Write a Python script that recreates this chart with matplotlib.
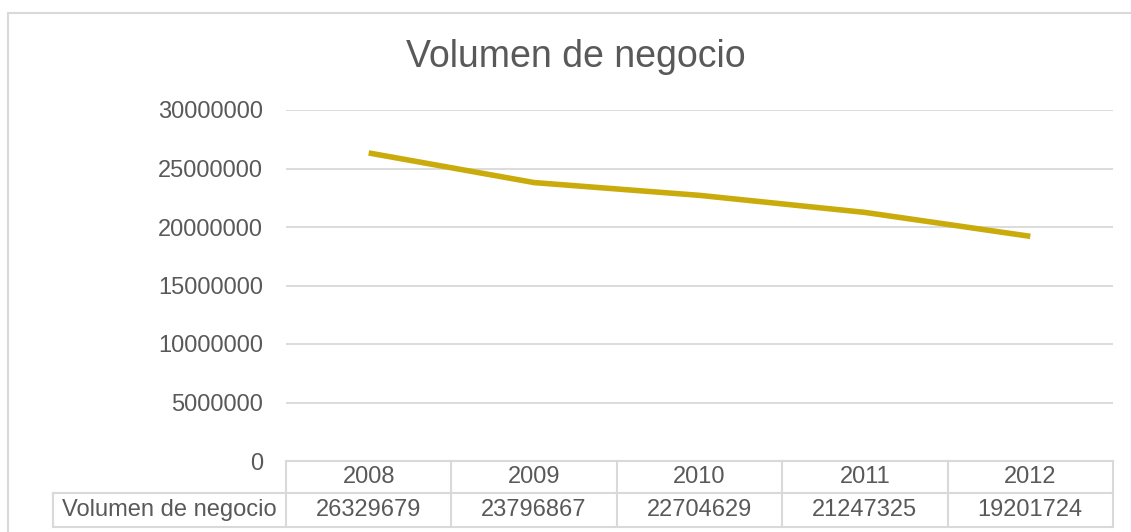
import matplotlib
matplotlib.use("Agg")
import matplotlib.pyplot as plt
from matplotlib.lines import Line2D

years = ["2008", "2009", "2010", "2011", "2012"]
values = [26329679, 23796867, 22704629, 21247325, 19201724]
series_name = "Volumen de negocio"
title = "Volumen de negocio"
yticks = [0, 5000000, 10000000, 15000000, 20000000, 25000000, 30000000]

plt.rcParams['font.family'] = ['Liberation Sans', 'DejaVu Sans']
W, H = 1131, 532
fig = plt.figure(figsize=(W / 100, H / 100), dpi=100)

TXT = '#595959'
GRID = '#D9D9D9'
LINE = '#C9AC0B'

# axes placement in pixels
x0, x1, ytop, ybot = 286, 1113, 110, 461
ax = fig.add_axes([x0 / W, (H - ybot) / H, (x1 - x0) / W, (ybot - ytop) / H])

xs = list(range(len(years)))
ax.plot(xs, values, color=LINE, lw=4, solid_capstyle='butt', zorder=3)
ax.set_xlim(-0.5, len(years) - 0.5)
ax.set_ylim(0, 30000000)
ax.set_yticks(yticks)
ax.set_yticklabels([str(v) for v in yticks], fontsize=17, color=TXT)
ax.tick_params(axis='y', length=0, pad=16.5)
ax.set_xticks([])
ax.grid(axis='y', color=GRID, lw=1.3)
ax.set_axisbelow(True)
for s in ax.spines.values():
    s.set_visible(False)

# data table
tr = ax.get_xaxis_transform()
axh = ybot - ytop
r1 = -(493 - ybot) / axh
r2 = -(527 - ybot) / axh
lab_left = -0.5 - (x0 - 53) / ((x1 - x0) / len(years))
lk = dict(color=GRID, lw=1.5, transform=tr, clip_on=False)
ax.add_line(Line2D([-0.5, len(years) - 0.5], [0, 0], **lk))
ax.add_line(Line2D([lab_left, len(years) - 0.5], [r1, r1], **lk))
ax.add_line(Line2D([lab_left, len(years) - 0.5], [r2, r2], **lk))
ax.add_line(Line2D([lab_left, lab_left], [r1, r2], **lk))
for i in range(len(years) + 1):
    ax.add_line(Line2D([i - 0.5, i - 0.5], [0, r2], **lk))
for i, (yr, v) in enumerate(zip(years, values)):
    ax.text(i, r1 / 2, yr, transform=tr, ha='center', va='center', fontsize=17, color=TXT)
    ax.text(i, (r1 + r2) / 2, str(v), transform=tr, ha='center', va='center', fontsize=17, color=TXT)
ax.text((lab_left - 0.5) / 2, (r1 + r2) / 2, series_name, transform=tr, ha='center', va='center',
        fontsize=17, color=TXT)

# title
fig.text(576 / W, 1 - 57 / H, title, ha='center', va='center', fontsize=27, color=TXT)

# outer chart border
fig.add_artist(Line2D([8 / W, 8 / W], [1 - 13 / H, -0.05], color=GRID, lw=1.5, transform=fig.transFigure))
fig.add_artist(Line2D([8 / W, 1.05], [1 - 13 / H, 1 - 13 / H], color=GRID, lw=1.5, transform=fig.transFigure))

fig.savefig("out.png", dpi=100, facecolor='white')
